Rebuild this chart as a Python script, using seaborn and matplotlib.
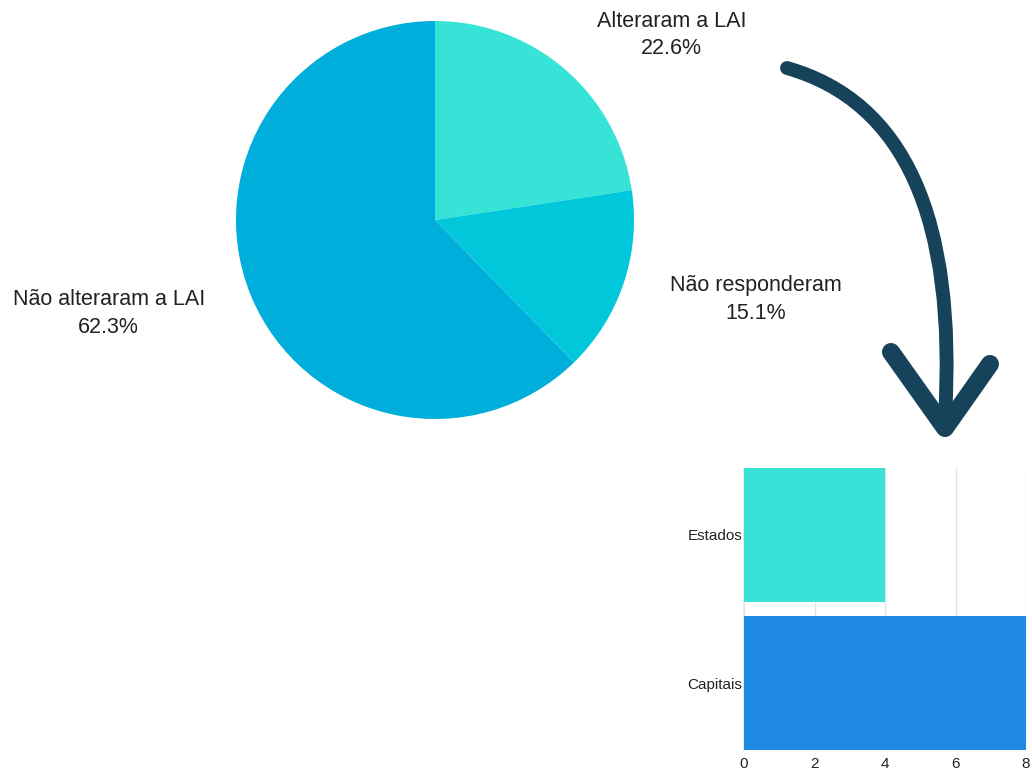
import matplotlib
matplotlib.use("Agg")
import matplotlib.pyplot as plt
from matplotlib.path import Path
from matplotlib.patches import PathPatch
import seaborn as sns
import pandas as pd

# ---- data ----
pie_labels = ["Alteraram a LAI", "Não responderam", "Não alteraram a LAI"]
pie_values = [22.6, 15.1, 62.3]
pie_colors = ["#36E3D6", "#00C8DA", "#00AEDB"]

bar_categories = ["Estados", "Capitais"]
bar_values = [4, 8]
bar_colors = ["#36E3D6", "#1E8AE2"]
x_ticks = [0, 2, 4, 6, 8]

sns.set_theme(style="white")
plt.rcParams["font.family"] = ["Liberation Sans", "DejaVu Sans"]

W, H = 1032, 771
fig = plt.figure(figsize=(W / 100, H / 100), dpi=100)
fig.patch.set_facecolor("white")

# ---- pie ----
cx, cy, r = 435, 220, 199
ax_pie = fig.add_axes([(cx - r) / W, (H - cy - r) / H, 2 * r / W, 2 * r / H])
ax_pie.pie(pie_values, colors=pie_colors, startangle=90, counterclock=False,
           wedgeprops=dict(linewidth=0))
ax_pie.set_xlim(-1, 1)
ax_pie.set_ylim(-1, 1)
ax_pie.set_aspect("equal")
ax_pie.axis("off")

label_pos = [(1.19, 0.93), (1.61, -0.40), (-1.64, -0.47)]
for (lx, ly), lab, val in zip(label_pos, pie_labels, pie_values):
    ax_pie.text(lx, ly, f"{lab}\n{val}%", ha="center", va="center",
                fontsize=15.5, color="#222222", linespacing=1.4, clip_on=False)

# ---- bars ----
ax_bar = fig.add_axes([744 / W, (H - 750) / H, 282 / W, 282 / H])
df = pd.DataFrame({"cat": bar_categories, "val": bar_values})
sns.barplot(data=df, y="cat", x="val", hue="cat", palette=bar_colors,
            orient="h", width=0.9, legend=False, ax=ax_bar, zorder=3,
            saturation=1, linewidth=0)
ax_bar.set_xlim(0, 8)
ax_bar.set_ylim(1.45, -0.45)
ax_bar.set_xticks(x_ticks)
ax_bar.set_xlabel("")
ax_bar.set_ylabel("")
ax_bar.grid(axis="x", color="#e4e4e4", linewidth=1, zorder=0)
ax_bar.set_axisbelow(True)
for s in ["top", "right", "bottom"]:
    ax_bar.spines[s].set_visible(False)
ax_bar.spines["left"].set_color("#e4e4e4")
ax_bar.tick_params(axis="y", length=0, pad=1, labelsize=11, labelcolor="#222222")
ax_bar.tick_params(axis="x", length=0, pad=5, labelsize=11, labelcolor="#222222")

# ---- curved arrow (decoration, pixel coordinates) ----
ax_ov = fig.add_axes([0, 0, 1, 1], zorder=5)
ax_ov.set_xlim(0, W)
ax_ov.set_ylim(H, 0)
ax_ov.axis("off")
arrow_color = "#16435A"
shaft = Path([(787, 68), (963, 118), (945, 418)],
             [Path.MOVETO, Path.CURVE3, Path.CURVE3])
ax_ov.add_patch(PathPatch(shaft, facecolor="none", edgecolor=arrow_color,
                          linewidth=10, capstyle="round"))
ax_ov.plot([891, 945, 990], [352, 428, 364], color=arrow_color, linewidth=13,
           solid_capstyle="round", solid_joinstyle="round")

fig.savefig("out.png", dpi=100, facecolor="white")
